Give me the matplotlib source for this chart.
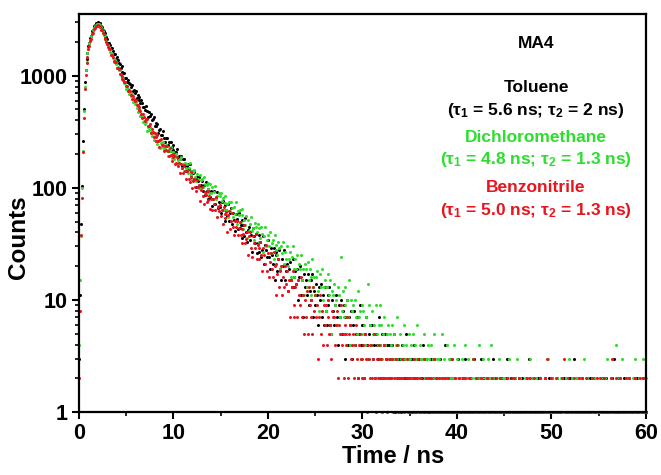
import numpy as np
import matplotlib
matplotlib.use('Agg')
from matplotlib import pyplot as plt

# TCSPC decay curves: counts per 0.1 ns channel, t = 0 .. 60 ns (one line = 1 ns)
toluene = [
    3, 11, 48, 104, 262, 505, 870, 1130, 1420, 1600,
    1830, 1950, 2170, 2270, 2480, 2580, 2760, 2810, 2960, 2970,
    3040, 2950, 2930, 2770, 2730, 2570, 2520, 2400, 2250, 2220,
    2113, 1972, 1977, 1871, 1774, 1784, 1652, 1560, 1560, 1414,
    1458, 1370, 1297, 1280, 1162, 1217, 1089, 1065, 1051, 955,
    953, 871, 922, 856, 848, 789, 830, 733, 743, 705,
    724, 627, 672, 642, 610, 565, 610, 576, 531, 531,
    493, 532, 487, 432, 472, 435, 451, 399, 411, 429,
    356, 378, 355, 371, 309, 331, 334, 297, 297, 318,
    277, 254, 279, 278, 243, 254, 213, 255, 231, 217,
    241, 208, 193, 210, 223, 181, 191, 181, 192, 158,
    180, 182, 155, 141, 158, 163, 146, 164, 129, 141,
    119, 136, 138, 120, 101, 126, 116, 126, 104, 106,
    116, 94, 105, 87, 112, 94, 79, 98, 91, 82,
    93, 69, 80, 93, 72, 81, 91, 66, 74, 68,
    60, 74, 76, 63, 51, 70, 63, 56, 71, 51,
    59, 66, 48, 59, 52, 41, 58, 53, 43, 60,
    44, 47, 36, 52, 47, 37, 54, 40, 33, 42,
    45, 34, 38, 27, 44, 37, 32, 39, 26, 32,
    27, 38, 33, 24, 28, 37, 21, 31, 28, 24,
    34, 24, 19, 29, 25, 21, 29, 15, 25, 27,
    18, 23, 28, 19, 15, 23, 20, 28, 15, 18,
    21, 12, 19, 22, 15, 13, 23, 16, 13, 18,
    14, 19, 10, 16, 20, 11, 15, 7, 17, 13,
    15, 11, 17, 9, 12, 15, 10, 17, 7, 12,
    9, 14, 11, 6, 13, 10, 14, 7, 11, 6,
    13, 8, 6, 11, 9, 13, 6, 5, 10, 8,
    6, 9, 11, 7, 4, 9, 7, 10, 5, 8,
    9, 3, 7, 5, 10, 4, 7, 6, 8, 3,
    6, 8, 4, 5, 7, 2, 5, 9, 4, 6,
    4, 6, 2, 5, 7, 4, 3, 5, 6, 4,
    6, 3, 4, 2, 5, 4, 3, 7, 2, 4,
    3, 5, 2, 4, 5, 3, 4, 2, 4, 3,
    2, 4, 3, 5, 1, 3, 2, 4, 3, 2,
    3, 1, 4, 2, 3, 2, 5, 2, 1, 3,
    2, 3, 1, 3, 4, 2, 2, 1, 3, 2,
    3, 2, 1, 2, 4, 1, 2, 3, 2, 1,
    2, 1, 3, 2, 0, 2, 3, 1, 2, 2,
    1, 2, 3, 1, 2, 0, 2, 4, 1, 2,
    2, 1, 0, 2, 3, 1, 2, 1, 2, 0,
    1, 3, 2, 0, 1, 2, 1, 2, 0, 3,
    2, 1, 0, 1, 2, 2, 1, 0, 3, 1,
    1, 0, 2, 1, 1, 3, 0, 2, 1, 2,
    0, 1, 2, 1, 0, 2, 1, 1, 3, 1,
    2, 1, 0, 1, 1, 2, 0, 1, 2, 1,
    1, 0, 2, 3, 1, 0, 1, 2, 1, 0,
    1, 2, 1, 0, 0, 1, 2, 1, 1, 2,
    0, 1, 1, 2, 1, 0, 3, 1, 0, 1,
    2, 1, 0, 1, 1, 0, 2, 1, 2, 0,
    1, 0, 1, 2, 0, 1, 1, 2, 1, 1,
    0, 2, 1, 1, 0, 1, 2, 0, 1, 1,
    1, 1, 0, 2, 1, 0, 1, 1, 2, 0,
    2, 0, 1, 1, 3, 1, 0, 2, 1, 1,
    0, 1, 2, 1, 0, 1, 1, 0, 2, 1,
    1, 2, 0, 1, 1, 2, 1, 0, 1, 0,
    1, 0, 1, 2, 1, 1, 0, 1, 2, 1,
    0, 1, 1, 0, 2, 1, 3, 1, 0, 1,
    2, 1, 0, 1, 1, 0, 1, 2, 1, 1,
    1, 0, 2, 1, 0, 1, 1, 2, 0, 1,
    1, 2, 1, 0, 1, 1, 0, 2, 1, 1,
    1]

dichloromethane = [
    4, 15, 37, 99, 214, 482, 790, 1120, 1330, 1600,
    1740, 1970, 2080, 2280, 2370, 2560, 2640, 2800, 2830, 2920,
    2900, 2920, 2760, 2720, 2540, 2500, 2320, 2290, 2110, 2060,
    1899, 1863, 1808, 1625, 1605, 1563, 1444, 1332, 1380, 1275,
    1175, 1185, 1113, 1117, 1005, 945, 955, 937, 858, 855,
    756, 777, 767, 692, 703, 658, 680, 586, 591, 557,
    578, 519, 476, 500, 491, 439, 441, 454, 385, 396,
    372, 384, 322, 351, 325, 349, 316, 289, 308, 267,
    289, 299, 264, 246, 262, 268, 226, 251, 232, 255,
    220, 230, 243, 214, 192, 222, 212, 230, 186, 194,
    207, 182, 191, 202, 163, 176, 166, 182, 188, 150,
    164, 140, 165, 151, 164, 136, 151, 165, 131, 141,
    120, 139, 145, 124, 114, 133, 121, 100, 129, 118,
    119, 101, 125, 108, 90, 107, 97, 110, 90, 108,
    90, 101, 79, 91, 103, 80, 85, 69, 89, 84,
    89, 76, 81, 64, 73, 85, 64, 72, 55, 75,
    62, 75, 66, 55, 68, 58, 74, 48, 62, 57,
    64, 50, 57, 65, 43, 52, 47, 56, 36, 52,
    41, 48, 55, 41, 44, 34, 49, 45, 40, 48,
    33, 44, 36, 45, 39, 27, 37, 45, 30, 34,
    38, 30, 40, 26, 32, 34, 23, 38, 28, 31,
    25, 33, 29, 19, 30, 26, 33, 21, 27, 23,
    30, 20, 23, 27, 16, 24, 30, 19, 16, 23,
    19, 25, 15, 21, 19, 25, 15, 19, 11, 21,
    19, 13, 22, 15, 19, 11, 16, 23, 13, 16,
    11, 16, 18, 12, 8, 17, 13, 19, 10, 13,
    15, 8, 13, 17, 10, 11, 15, 5, 12, 11,
    14, 9, 10, 6, 13, 11, 7, 24, 8, 12,
    7, 13, 9, 5, 10, 7, 15, 4, 10, 8,
    9, 4, 10, 7, 5, 12, 7, 8, 3, 9,
    5, 8, 6, 4, 7, 3, 14, 9, 6, 4,
    8, 5, 6, 2, 9, 5, 4, 6, 9, 4,
    6, 3, 5, 7, 4, 2, 5, 6, 3, 5,
    4, 6, 3, 5, 2, 4, 7, 3, 4, 2,
    5, 3, 2, 4, 6, 3, 4, 1, 3, 5,
    3, 4, 2, 5, 3, 1, 4, 3, 6, 2,
    2, 4, 3, 1, 3, 5, 2, 3, 2, 4,
    3, 2, 1, 4, 2, 3, 5, 2, 1, 3,
    2, 3, 1, 2, 5, 2, 3, 1, 2, 4,
    1, 2, 3, 2, 0, 3, 2, 4, 1, 2,
    3, 1, 2, 0, 2, 3, 1, 2, 4, 1,
    2, 1, 3, 2, 0, 1, 2, 3, 1, 2,
    1, 2, 0, 4, 2, 1, 2, 1, 3, 0,
    2, 1, 1, 3, 0, 2, 4, 1, 2, 1,
    1, 0, 2, 1, 3, 1, 2, 0, 1, 2,
    2, 1, 1, 0, 2, 3, 1, 1, 0, 2,
    1, 2, 0, 1, 3, 1, 0, 2, 1, 1,
    0, 1, 2, 1, 1, 0, 2, 3, 1, 0,
    2, 1, 0, 1, 2, 1, 1, 0, 2, 1,
    1, 0, 1, 2, 0, 1, 3, 1, 1, 0,
    1, 2, 0, 1, 1, 0, 2, 1, 0, 1,
    2, 1, 1, 0, 1, 2, 0, 1, 1, 3,
    0, 1, 2, 1, 0, 1, 1, 2, 0, 1,
    1, 2, 0, 1, 3, 1, 0, 1, 2, 1,
    0, 1, 1, 2, 1, 0, 2, 1, 1, 0,
    1, 1, 2, 0, 1, 1, 0, 2, 1, 3,
    1, 0, 1, 2, 1, 1, 0, 1, 4, 2,
    0, 1, 2, 1, 0, 3, 1, 1, 0, 2,
    1, 2, 0, 1, 1, 0, 2, 1, 3, 1,
    0, 1, 1, 2, 1, 0, 1, 3, 1, 2,
    2]

benzonitrile = [
    2, 8, 38, 81, 207, 418, 760, 1020, 1310, 1480,
    1720, 1830, 2050, 2140, 2340, 2410, 2590, 2640, 2780, 2770,
    2850, 2760, 2740, 2580, 2550, 2390, 2340, 2180, 2140, 1980,
    1935, 1785, 1732, 1714, 1526, 1530, 1483, 1360, 1317, 1317,
    1162, 1161, 1140, 1045, 1040, 938, 987, 914, 870, 886,
    802, 817, 723, 742, 730, 669, 616, 663, 623, 595,
    613, 553, 551, 493, 525, 488, 452, 421, 453, 429,
    397, 414, 410, 354, 357, 369, 307, 332, 315, 286,
    309, 264, 284, 293, 260, 231, 266, 274, 239, 239,
    215, 236, 216, 236, 213, 194, 226, 195, 174, 199,
    188, 193, 163, 168, 189, 155, 165, 136, 164, 150,
    136, 160, 140, 121, 140, 143, 121, 113, 124, 138,
    99, 115, 119, 102, 93, 118, 101, 105, 77, 96,
    102, 85, 72, 92, 86, 74, 93, 78, 85, 65,
    79, 64, 80, 71, 64, 82, 55, 68, 62, 70,
    56, 63, 48, 67, 58, 54, 61, 40, 57, 62,
    43, 51, 60, 45, 38, 51, 45, 51, 38, 44,
    50, 38, 32, 43, 39, 47, 32, 35, 40, 25,
    37, 40, 29, 24, 37, 32, 29, 39, 23, 31,
    23, 29, 33, 25, 18, 29, 25, 21, 31, 18,
    26, 16, 22, 26, 19, 16, 27, 20, 11, 21,
    17, 23, 13, 18, 20, 11, 16, 13, 20, 14,
    18, 12, 15, 7, 15, 13, 18, 9, 7, 13,
    14, 7, 15, 11, 9, 16, 7, 11, 5, 10,
    7, 12, 5, 13, 9, 7, 10, 5, 13, 8,
    11, 7, 9, 3, 7, 11, 5, 8, 4, 9,
    6, 9, 4, 7, 10, 5, 6, 3, 8, 7,
    7, 4, 6, 8, 2, 6, 5, 9, 4, 5,
    2, 6, 5, 4, 7, 2, 5, 6, 3, 4,
    5, 2, 4, 6, 3, 2, 4, 5, 3, 2,
    3, 4, 2, 5, 3, 1, 4, 3, 2, 4,
    2, 3, 5, 2, 1, 3, 2, 4, 3, 2,
    3, 1, 2, 4, 2, 3, 1, 2, 3, 2,
    2, 3, 1, 2, 0, 3, 2, 4, 1, 2,
    1, 2, 3, 2, 1, 0, 2, 3, 2, 1,
    2, 1, 0, 2, 3, 1, 2, 1, 2, 3,
    1, 2, 2, 0, 1, 3, 1, 2, 1, 0,
    2, 0, 1, 2, 1, 1, 3, 0, 2, 1,
    1, 2, 1, 0, 2, 1, 1, 2, 0, 1,
    2, 1, 0, 1, 1, 3, 0, 1, 2, 1,
    0, 1, 2, 1, 0, 1, 2, 1, 1, 2,
    1, 0, 1, 2, 1, 0, 1, 3, 1, 0,
    2, 1, 0, 1, 1, 2, 0, 1, 1, 0,
    1, 0, 2, 1, 0, 1, 1, 2, 0, 1,
    1, 2, 0, 1, 1, 0, 2, 1, 0, 1,
    0, 1, 1, 2, 1, 0, 1, 0, 2, 1,
    2, 1, 0, 1, 0, 1, 2, 1, 1, 0,
    1, 0, 1, 1, 2, 0, 1, 2, 1, 0,
    0, 1, 2, 1, 0, 1, 1, 0, 2, 1,
    1, 1, 0, 2, 1, 3, 0, 1, 1, 0,
    2, 0, 1, 1, 0, 2, 1, 1, 0, 1,
    1, 2, 0, 3, 1, 0, 1, 2, 1, 0,
    0, 1, 1, 0, 2, 1, 0, 1, 1, 2,
    1, 0, 2, 1, 1, 0, 1, 2, 0, 1,
    1, 1, 0, 2, 0, 1, 1, 0, 2, 1,
    0, 2, 1, 1, 0, 1, 2, 0, 1, 1,
    1, 0, 1, 2, 3, 1, 0, 1, 2, 0,
    1, 1, 0, 2, 1, 0, 1, 1, 0, 2,
    0, 1, 2, 1, 0, 1, 1, 0, 2, 1,
    1, 0, 1, 1, 2, 0, 1, 2, 1, 0,
    1]

channel_ns = 0.1
series_names = ['Toluene', 'Dichloromethane', 'Benzonitrile']
series_counts = [toluene, dichloromethane, benzonitrile]
series_tau = [('5.6', '2'), ('4.8', '1.3'), ('5.0', '1.3')]
colors = ['#000000', '#2ede2e', '#e8141e']

plt.rcParams['font.family'] = ['Liberation Sans', 'DejaVu Sans']
plt.rcParams['font.weight'] = 'bold'
plt.rcParams['mathtext.default'] = 'regular'

fig = plt.figure(figsize=(6.61, 4.75), dpi=100)
ax = fig.add_axes([0.1195, 0.1326, 0.8578, 0.8379])

for counts, c in zip(series_counts, colors):
    y = np.array(counts, dtype=float)
    t = np.arange(len(y)) * channel_ns
    keep = y > 0
    ax.plot(t[keep], y[keep], 'o', ms=2.2, mew=0, color=c, clip_on=False)

ax.set_yscale('log')
ax.set_xlim(0, 60)
ax.set_ylim(1, 3550)
ax.set_xticks([0, 10, 20, 30, 40, 50, 60])
ax.set_xticks([5, 15, 25, 35, 45, 55], minor=True)
ax.set_yticks([1, 10, 100, 1000])
ax.set_yticklabels(['1', '10', '100', '1000'])
ax.tick_params(which='major', length=5, width=1.5, labelsize=15.5, pad=3)
ax.tick_params(which='minor', length=3, width=1.2)
ax.tick_params(axis='y', which='minor', labelleft=False)
for s in ax.spines.values():
    s.set_linewidth(1.6)
for lab in ax.get_xticklabels() + ax.get_yticklabels():
    lab.set_fontweight('bold')

ax.set_xlabel('Time / ns', fontsize=17, fontweight='bold')
ax.set_ylabel('Counts', fontsize=17.5, fontweight='bold')
ax.xaxis.set_label_coords(0.554, -0.083)
ax.yaxis.set_label_coords(-0.086, 0.44)

# annotation block, figure pixel rows from the reference
xc = 536 / 661
fig.text(xc, 1 - 44 / 475, 'MA4', ha='center', va='center', fontsize=12.5, fontweight='bold')
rows = [(87, 110), (138, 160), (188, 210)]
for (y1, y2), name, (t1, t2), c in zip(rows, series_names, series_tau, colors):
    fig.text(xc, 1 - y1 / 475, name, ha='center', va='center', fontsize=12.5,
             fontweight='bold', color=c)
    fig.text(xc, 1 - y2 / 475, r'(τ$_1$ = %s ns; τ$_2$ = %s ns)' % (t1, t2),
             ha='center', va='center', fontsize=12.5, fontweight='bold', color=c)

fig.savefig('out.png', dpi=100)
